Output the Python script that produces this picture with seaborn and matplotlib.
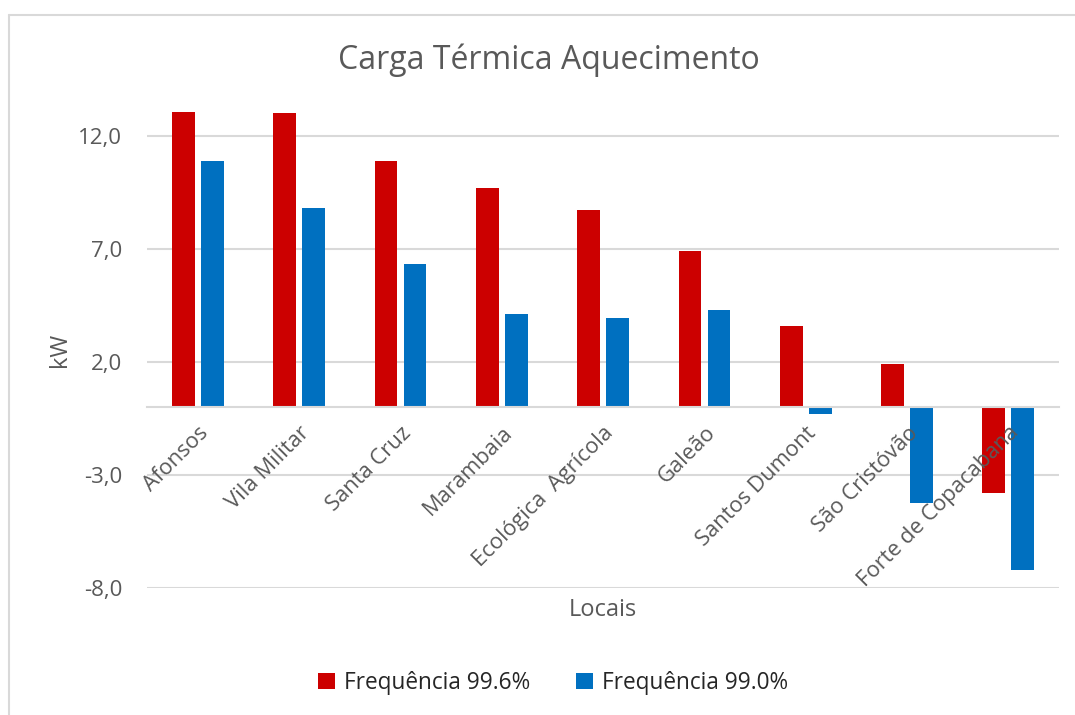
import matplotlib
matplotlib.use("Agg")
import matplotlib.pyplot as plt
import seaborn as sns
import pandas as pd
from matplotlib.patches import Patch

locais = ["Afonsos", "Vila Militar", "Santa Cruz", "Marambaia", "Ecológica  Agrícola",
          "Galeão", "Santos Dumont", "São Cristóvão", "Forte de Copacabana"]
freq_996 = [13.05, 12.99, 10.89, 9.70, 8.70, 6.90, 3.61, 1.90, -3.81]
freq_990 = [10.89, 8.79, 6.31, 4.11, 3.94, 4.29, -0.30, -4.22, -7.22]
series_names = ["Frequência 99.6%", "Frequência 99.0%"]
yticks = [-8, -3, 2, 7, 12]
ytick_labels = ["-8,0", "-3,0", "2,0", "7,0", "12,0"]

colors = ["#CC0000", "#0070C0"]
text_color = "#595959"
grid_color = "#D9D9D9"

df = pd.DataFrame({
    "Local": locais * 2,
    "kW": freq_996 + freq_990,
    "Serie": [series_names[0]] * len(locais) + [series_names[1]] * len(locais),
})

sns.set_theme(style="white")
plt.rcParams["font.family"] = ["Open Sans", "DejaVu Sans"]

fig = plt.figure(figsize=(10.75, 7.15), dpi=100)
ax = fig.add_axes([147.2 / 1075, 1 - 588 / 715, (1059 - 147.2) / 1075, (588 - 90.6) / 715])

sns.barplot(data=df, x="Local", y="kW", hue="Serie", palette=colors, width=0.573,
            gap=0.217, ax=ax, linewidth=0, legend=False, zorder=2, saturation=1)

ax.set_ylim(-8, 14)
ax.set_xlim(-0.5, len(locais) - 0.5)
ax.set_yticks(yticks)
ax.set_yticklabels(ytick_labels, fontsize=16, color=text_color)
ax.tick_params(axis="y", length=0, pad=18)

for sp in ["top", "right", "left"]:
    ax.spines[sp].set_visible(False)
ax.spines["bottom"].set_position(("data", 0))
ax.spines["bottom"].set_color(grid_color)
ax.spines["bottom"].set_linewidth(1.5)

ax.yaxis.grid(True, color=grid_color, linewidth=1.5)
ax.yaxis.set_zorder(0.5)
ax.xaxis.set_zorder(5)

ax.set_xticks(range(len(locais)))
ax.set_xticklabels(locais, rotation=45, ha="right", va="top", rotation_mode="anchor",
                   fontsize=15.8, color=text_color)
ax.tick_params(axis="x", length=0, pad=11)
ax.set_xlabel("")
ax.set_ylabel("")

fig.text(60 / 1075, 1 - 350 / 715, "kW", rotation=90, ha="center", va="center",
         fontsize=17, color=text_color)
fig.text(603 / 1075, 1 - 610 / 715, "Locais", ha="center", va="center",
         fontsize=17, color=text_color)
fig.text(548.5 / 1075, 1 - 60 / 715, "Carga Térmica Aquecimento", ha="center", va="center",
         fontsize=23, color=text_color)

handles = [Patch(facecolor=c, edgecolor="none") for c in colors]
fig.legend(handles, series_names, loc="center", bbox_to_anchor=(553 / 1075, 1 - 683 / 715),
           ncol=2, frameon=False, fontsize=16.3, handlelength=0.75, handleheight=0.75,
           handletextpad=0.4, columnspacing=2.0, labelcolor="#262626")

# chart border (top and left visible in reference)
fig.add_artist(plt.Line2D([8.5 / 1075, 8.5 / 1075], [0, 1 - 14.5 / 715], color=grid_color,
                          linewidth=1.5, transform=fig.transFigure))
fig.add_artist(plt.Line2D([8.5 / 1075, 1], [1 - 14.5 / 715, 1 - 14.5 / 715], color=grid_color,
                          linewidth=1.5, transform=fig.transFigure))

fig.savefig("out.png", dpi=100, facecolor="white")
